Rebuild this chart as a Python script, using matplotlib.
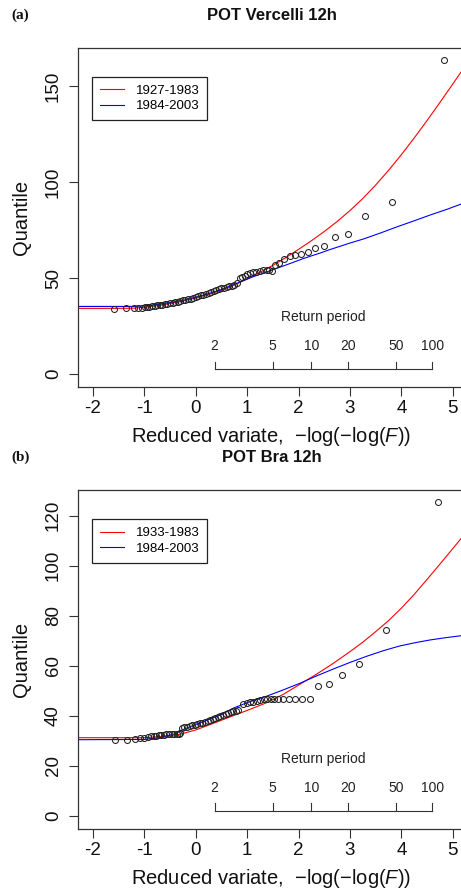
import numpy as np
import matplotlib
matplotlib.use("Agg")
import matplotlib.pyplot as plt

plt.rcParams['font.family'] = ['Liberation Sans', 'DejaVu Sans']
plt.rcParams['mathtext.fontset'] = 'custom'
plt.rcParams['mathtext.rm'] = 'Liberation Sans'
plt.rcParams['mathtext.it'] = 'Liberation Sans:italic'

# ---------------- Data ----------------
# Panel (a) POT Vercelli 12h
a_title = "POT Vercelli 12h"
a_legend = ["1927-1983", "1984-2003"]
a_pts_x = [-1.59, -1.36, -1.21, -1.13, -1.05, -0.99,
           -0.95, -0.90, -0.85, -0.80, -0.75, -0.70, -0.65, -0.60, -0.55, -0.50,
           -0.45, -0.40, -0.35, -0.30, -0.25, -0.20, -0.15, -0.10, -0.05, 0.00,
           0.05, 0.10, 0.15, 0.20, 0.25, 0.30, 0.35, 0.40, 0.45, 0.50,
           0.55, 0.60, 0.65, 0.70, 0.75, 0.80,
           0.86, 0.90, 0.95, 0.99, 1.05, 1.12, 1.18, 1.25, 1.31, 1.38, 1.43, 1.48,
           1.55, 1.63, 1.71, 1.83, 1.94, 2.05, 2.18, 2.33, 2.50, 2.71, 2.97,
           3.30, 3.81, 4.84]
a_pts_y = [33.9, 34.4, 34.4, 34.5, 34.6, 35.0,
           35.0, 35.1, 35.3, 35.5, 35.8, 36.0, 36.2, 36.4, 36.7, 36.9,
           37.2, 37.4, 37.7, 38.0, 38.3, 38.6, 38.9, 39.3, 39.6, 40.1,
           40.6, 41.0, 41.4, 41.8, 42.4, 42.8, 43.3, 43.8, 44.2, 44.6,
           45.0, 45.4, 45.7, 46.1, 46.6, 47.6,
           50.0, 50.7, 51.3, 51.9, 52.4, 53.0, 53.3, 53.6, 54.0, 54.2, 54.2, 53.8,
           56.6, 58.0, 59.8, 61.3, 62.1, 62.7, 63.4, 65.6, 66.8, 71.6, 73.0,
           82.1, 89.4, 163.4]
a_red_x = [-2.29, -1.5, -1.2, -1.0, -0.75, -0.5, -0.25, 0.0, 0.25, 0.5, 0.8, 1.12,
           1.25, 1.5, 1.75, 2.0, 2.25, 2.5, 2.75, 3.0, 3.25, 3.5, 3.75, 4.0,
           4.25, 4.5, 4.75, 5.0, 5.24]
a_red_y = [34.2, 34.2, 34.3, 34.8, 35.6, 36.7, 38.0, 39.6, 41.5, 43.7, 47.0, 51.2,
           53.0, 56.6, 60.6, 64.9, 69.4, 74.2, 79.4, 85.1, 91.4, 98.4, 106.0, 114.2,
           122.9, 132.0, 141.4, 151.0, 160.3]
a_blue_x = [-2.29, -1.2, -1.0, -0.75, -0.5, -0.25, 0.0, 0.25, 0.5, 0.8, 1.12, 1.5,
            1.77, 2.1, 2.42, 2.61, 3.0, 3.26, 3.6, 3.91, 4.25, 4.56, 4.9, 5.24]
a_blue_y = [35.2, 35.2, 35.5, 36.2, 37.2, 38.4, 40.0, 41.9, 44.0, 47.2, 50.7, 54.3,
            56.9, 60.2, 63.0, 64.8, 68.2, 70.3, 73.5, 76.6, 79.8, 82.8, 85.9, 89.3]

# Panel (b) POT Bra 12h
b_title = "POT Bra 12h"
b_legend = ["1933-1983", "1984-2003"]
b_pts_x = [-1.57, -1.33, -1.18, -1.08, -1.00, -0.92,
           -0.87, -0.82, -0.77, -0.72, -0.67, -0.62, -0.57, -0.52, -0.47, -0.42,
           -0.37, -0.33, -0.30, -0.27, -0.22, -0.17, -0.12, -0.07, -0.02,
           0.03, 0.08, 0.13, 0.18, 0.23, 0.28, 0.33, 0.38, 0.43, 0.48, 0.53,
           0.58, 0.63, 0.68, 0.73, 0.78, 0.83, 0.92, 0.99, 1.05, 1.12, 1.19,
           1.26, 1.32, 1.39, 1.46, 1.53, 1.61, 1.70, 1.81, 1.93, 2.06, 2.22,
           2.38, 2.60, 2.84, 3.18, 3.70, 4.72]
b_pts_y = [30.3, 30.3, 30.7, 31.0, 31.2, 31.6,
           31.7, 31.9, 32.0, 32.2, 32.3, 32.4, 32.5, 32.6, 32.7, 32.7,
           32.8, 32.8, 32.9, 35.0, 35.3, 35.6, 35.8, 36.1, 36.4,
           36.7, 37.0, 37.2, 37.5, 37.8, 38.2, 38.6, 39.0, 39.4, 39.7, 40.1,
           40.5, 41.0, 41.5, 41.8, 42.0, 42.3, 44.5, 45.0, 45.3, 45.6, 46.0,
           46.3, 46.5, 46.6, 46.6, 46.7, 46.7, 46.7, 46.7, 46.7, 46.7, 46.7,
           51.9, 52.6, 56.2, 60.6, 74.3, 125.4]
b_red_x = [-2.29, -1.0, -0.7, -0.5, -0.3, 0.0, 0.3, 0.73, 1.05, 1.38, 1.7, 2.03,
           2.35, 2.68, 3.0, 3.25, 3.5, 3.75, 4.0, 4.25, 4.5, 4.75, 5.0, 5.24]
b_red_y = [31.2, 31.2, 31.6, 32.0, 32.6, 34.3, 36.6, 40.0, 42.5, 45.2, 48.5, 52.6,
           56.6, 61.0, 65.6, 69.4, 73.6, 78.0, 83.0, 88.5, 94.5, 100.6, 106.8, 112.8]
b_blue_x = [-2.29, -1.0, -0.7, -0.4, -0.3, 0.0, 0.3, 0.47, 0.73, 1.05, 1.38, 1.7,
            2.03, 2.35, 2.68, 3.0, 3.33, 3.65, 3.97, 4.27, 4.56, 4.86, 5.24]
b_blue_y = [30.4, 30.5, 31.2, 32.8, 34.0, 36.5, 38.8, 40.2, 43.0, 45.6, 47.8, 50.3,
            53.0, 55.9, 58.7, 61.3, 63.8, 66.0, 67.9, 69.2, 70.3, 71.2, 72.2]

return_periods = [2, 5, 10, 20, 50, 100]
x_ticks = [-2, -1, 0, 1, 2, 3, 4, 5]
a_yticks = [0, 50, 100, 150]
b_yticks = [0, 20, 40, 60, 80, 100, 120]

# ---------------- Figure ----------------
W, H = 461, 893
fig = plt.figure(figsize=(W / 100, H / 100), dpi=100)

def fx(px):
    return px / W

def fy(py):
    return 1 - py / H

XL = (-2.29, 5.239)

def panel(top, bottom, ylim, yticks, pts_x, pts_y, red_x, red_y, blue_x, blue_y,
          legend, title, tag, rp_levels):
    ax = fig.add_axes([fx(78), fy(bottom), fx(465) - fx(78), (bottom - top) / H])
    ax.set_xlim(*XL)
    ax.set_ylim(*ylim)
    ax.plot(red_x, red_y, color='#ff0000', lw=0.8, label=legend[0])
    ax.plot(blue_x, blue_y, color='#0000ff', lw=0.8, label=legend[1])
    ax.plot(pts_x, pts_y, linestyle='none', marker='o', markersize=4.3,
            markerfacecolor='none', markeredgecolor='#222222', markeredgewidth=0.75)
    ax.set_xticks(x_ticks)
    ax.set_xticklabels([str(t) for t in x_ticks])
    ax.set_yticks(yticks)
    ax.set_yticklabels([str(t) for t in yticks], rotation=90, va='center')
    ax.tick_params(axis='both', direction='out', length=6.5, width=0.8,
                   labelsize=13.5, color='#333333', labelcolor='#111111')
    ax.tick_params(axis='x', pad=3)
    ax.tick_params(axis='y', pad=5)
    for s in ax.spines.values():
        s.set_color('#333333')
        s.set_linewidth(0.9)

    # Return period axis
    rp_x = [-np.log(-np.log(1 - 1 / T)) for T in return_periods]
    y_line, y_tick, y_lab, y_title = rp_levels
    ax.plot([rp_x[0], rp_x[-1]], [y_line, y_line], color='#333333', lw=0.8)
    for xv, T in zip(rp_x, return_periods):
        ax.plot([xv, xv], [y_line, y_tick], color='#333333', lw=0.8)
        ax.text(xv, y_lab, str(T), ha='center', va='center', fontsize=10, color='#222222')
    ax.text((rp_x[0] + rp_x[-1]) / 2, y_title, "Return period", ha='center', va='center',
            fontsize=10, color='#222222')

    leg = ax.legend(loc='upper left', bbox_to_anchor=((92 - 78) / 387, (bottom - (top + 29)) / (bottom - top)),
                    borderaxespad=0, fancybox=False, edgecolor='#222222', framealpha=1,
                    fontsize=9.5, handlelength=1.8, handletextpad=0.9, borderpad=0.6,
                    labelspacing=0.25)
    leg.get_frame().set_linewidth(0.9)

    # Axis labels & titles
    fig.text(fx(271.5), fy(bottom + 50), r"Reduced variate,  $-\log(-\log(F))$",
             ha='center', va='center', fontsize=14.5, color='#111111')
    fig.text(fx(22), fy((top + bottom) / 2), "Quantile", rotation=90,
             ha='center', va='center', fontsize=14.5, color='#111111')
    fig.text(fx(271.5), fy(top - 32.5), title, ha='center', va='center',
             fontsize=12, fontweight='bold', color='#111111')
    fig.text(fx(20.5), fy(top - 32.5), tag, ha='center', va='center',
             fontsize=11, fontweight='bold', family='Liberation Serif', color='#111111')
    return ax

panel(47.7, 386.7, (-6.6, 169.95), a_yticks, a_pts_x, a_pts_y, a_red_x, a_red_y,
      a_blue_x, a_blue_y, a_legend, a_title, "(a)", (2.6, 6.4, 14.7, 29.7))
panel(490.0, 829.0, (-5.32, 130.28), b_yticks, b_pts_x, b_pts_y, b_red_x, b_red_y,
      b_blue_x, b_blue_y, b_legend, b_title, "(b)", (2.0, 5.0, 11.0, 22.6))

fig.savefig("out.png", dpi=100)
